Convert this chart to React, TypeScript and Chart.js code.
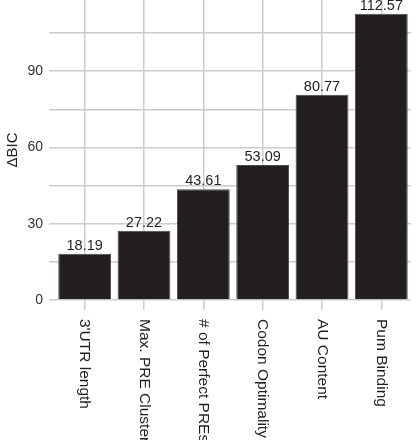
import React, { useEffect, useRef } from "react";
import { Chart, registerables } from "chart.js";

Chart.register(...registerables);

const categories = ["3'UTR length", "Max. PRE Cluster", "# of Perfect PREs", "Codon Optimality", "AU Content", "Pum Binding"];
const deltaBIC = [18.19, 27.22, 43.61, 53.09, 80.77, 112.57];
const gridValues = [0, 15, 30, 45, 60, 75, 90, 105];
const labeledTicks = [0, 30, 60, 90];

const FONT = "'Liberation Sans', Arial, Helvetica, sans-serif";

const overlayPlugin = {
  id: "overlay",
  afterDatasetsDraw(chart: any) {
    const ctx = chart.ctx;
    const meta = chart.getDatasetMeta(0);
    ctx.save();
    ctx.fillStyle = "#231f20";
    ctx.font = `14.5px ${FONT}`;
    ctx.textAlign = "center";
    ctx.textBaseline = "bottom";
    meta.data.forEach((bar: any, i: number) => {
      ctx.fillText(deltaBIC[i].toFixed(2), bar.x, bar.y - 0.5);
    });
    const xs = chart.scales.x;
    ctx.font = `15.5px ${FONT}`;
    ctx.textAlign = "left";
    ctx.textBaseline = "middle";
    categories.forEach((c, i) => {
      const x = xs.getPixelForTick(i);
      ctx.save();
      ctx.translate(x, xs.top + 19);
      ctx.rotate(Math.PI / 2);
      ctx.fillText(c, 0, 0);
      ctx.restore();
    });
    ctx.restore();
  },
};

export default function App() {
  const ref = useRef<HTMLCanvasElement>(null);
  useEffect(() => {
    document.body.style.margin = "0";
    const chart = new Chart(ref.current!, {
      type: "bar",
      data: {
        labels: categories,
        datasets: [
          {
            data: deltaBIC,
            backgroundColor: "#231f20",
            borderColor: "#4a4a4a",
            borderWidth: 1,
            barPercentage: 0.89,
            categoryPercentage: 1,
          },
        ],
      },
      options: {
        animation: false,
        responsive: false,
        maintainAspectRatio: false,
        layout: { padding: { top: 0, right: 7, left: 0, bottom: 0 } },
        plugins: { legend: { display: false }, tooltip: { enabled: false } },
        scales: {
          x: {
            grid: { offset: false, color: "#cccccc", lineWidth: 1.5, tickLength: 10 },
            border: { display: false },
            ticks: { display: false },
            afterFit: (s: any) => {
              s.height = 140;
              s.paddingLeft = 0;
              s.paddingRight = 0;
            },
          },
          y: {
            min: 0,
            max: 118,
            afterBuildTicks: (s: any) => {
              s.ticks = gridValues.map((v) => ({ value: v }));
            },
            grid: { color: "#cccccc", lineWidth: 1.5, tickLength: 6 },
            border: { display: false },
            ticks: {
              color: "#333333",
              font: { family: FONT, size: 14 },
              padding: 6,
              callback: (v: any) => (labeledTicks.includes(Number(v)) ? String(v) : ""),
            },
            title: {
              display: true,
              text: "ΔBIC",
              color: "#231f20",
              font: { family: FONT, size: 15 },
              padding: { top: 4, bottom: 0 },
            },
            afterFit: (s: any) => {
              s.width = 55;
              s.paddingTop = 0;
              s.paddingBottom = 0;
            },
          },
        },
      },
      plugins: [overlayPlugin],
    });
    return () => chart.destroy();
  }, []);
  return (
    <div style={{ width: 418, height: 440 }}>
      <canvas ref={ref} width={418} height={440} />
    </div>
  );
}
